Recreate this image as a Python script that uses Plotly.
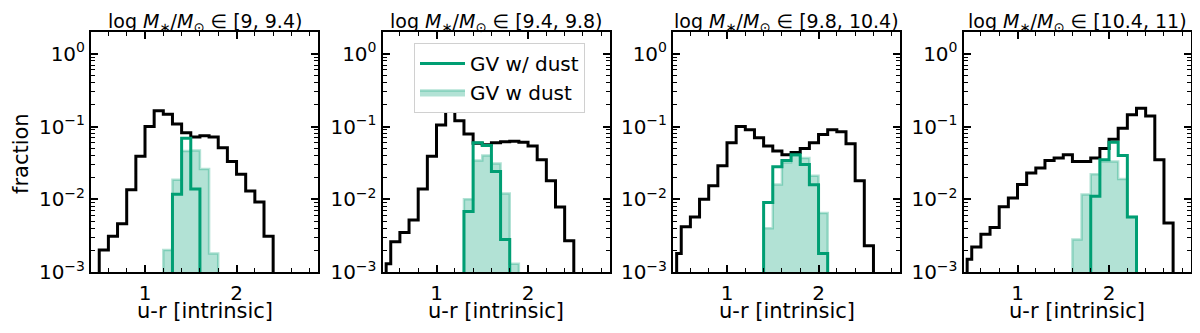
import numpy as np
import plotly.graph_objects as go

# u-r distributions (fraction per 0.1-wide bin), one entry per stellar-mass bin.
# *_lo is the left edge of the first bin of each list.
bin_width = 0.1
u_r_min = 0.45  # black histograms start at the sample's lowest u-r

mass_bins = ["[9, 9.4)", "[9.4, 9.8)", "[9.8, 10.4)", "[10.4, 11)"]

all_lo = [0.5, 0.4, 0.4, 0.4]
all_p1 = [0.0020, 0.0031, 0.0046, 0.0135, 0.039, 0.100, 0.165, 0.148, 0.108, 0.082,
          0.072, 0.075, 0.072, 0.051, 0.033, 0.022, 0.0130, 0.0092, 0.0031]
all_p2 = [0.0013, 0.0026, 0.0035, 0.0052, 0.0138, 0.039, 0.105, 0.170, 0.120, 0.079,
          0.059, 0.056, 0.060, 0.062, 0.063, 0.061, 0.054, 0.035, 0.018, 0.0078, 0.0027]
all_p3 = [0.0018, 0.0042, 0.0057, 0.0100, 0.0154, 0.029, 0.060, 0.100, 0.090, 0.070,
          0.054, 0.046, 0.041, 0.044, 0.050, 0.060, 0.078, 0.090, 0.085, 0.058, 0.018, 0.0023]
all_p4 = [0.0015, 0.0022, 0.0033, 0.0041, 0.0079, 0.0104, 0.0160, 0.023, 0.027, 0.034,
          0.037, 0.041, 0.033, 0.033, 0.037, 0.050, 0.067, 0.095, 0.145, 0.178, 0.140, 0.035, 0.0047]

gv_lo = [1.3, 1.3, 1.4, 1.8]
gv_p1 = [0.0117, 0.069, 0.0138]
gv_p2 = [0.0068, 0.060, 0.055, 0.024, 0.0028]
gv_p3 = [0.0090, 0.028, 0.034, 0.041, 0.030, 0.0158, 0.0018]
gv_p4 = [0.011, 0.035, 0.061, 0.040, 0.0057]

gvd_lo = [1.2, 1.3, 1.4, 1.6]
gvd_p1 = [0.0020, 0.0185, 0.046, 0.047, 0.026, 0.0018]
gvd_p2 = [0.010, 0.034, 0.040, 0.031, 0.012, 0.0013]
gvd_p3 = [0.0040, 0.016, 0.032, 0.040, 0.037, 0.021, 0.0065]
gvd_p4 = [0.0028, 0.0116, 0.022, 0.033, 0.033, 0.019, 0.0057]

all_frac = [all_p1, all_p2, all_p3, all_p4]
gv_frac = [gv_p1, gv_p2, gv_p3, gv_p4]
gvd_frac = [gvd_p1, gvd_p2, gvd_p3, gvd_p4]

GREEN = "rgb(0,158,115)"
GREEN_A = "rgba(0,158,115,0.3)"
FONT = "DejaVu Sans"

# the page keeps the browser's 8px body margin round the plot div, so the
# figure is shrunk to leave the page exactly 1200x333; positions below are
# page pixels
PAD = 8
W, H = 1200 - 2 * PAD, 333 - 2 * PAD
panel_left = [91, 382.5, 673, 963.5]
panel_w = 227
top_px, bot_px = 32, 272


def px_x(v):
    return (v - PAD) / W


def px_y(v):
    return 1 - (v - PAD) / H


def steps(lo, vals, floor=1e-5):
    # matplotlib-style 'step' outline: up from the floor, across the bins, back down
    edges = lo + bin_width * np.arange(len(vals) + 1)
    edges[0] = max(edges[0], u_r_min)
    x = np.repeat(edges, 2)
    y = np.concatenate([[floor], np.repeat(vals, 2), [floor]])
    return x, y


fig = go.Figure()

for i in range(4):
    xa = "x" if i == 0 else f"x{i + 1}"
    ya = "y" if i == 0 else f"y{i + 1}"

    x, y = steps(all_lo[i], all_frac[i])
    fig.add_trace(go.Scatter(x=x, y=y, mode="lines", xaxis=xa, yaxis=ya,
                             line=dict(color="black", width=3), showlegend=False))

    x, y = steps(gvd_lo[i], gvd_frac[i])
    fig.add_trace(go.Scatter(x=x, y=y, mode="lines", xaxis=xa, yaxis=ya, fill="toself",
                             fillcolor=GREEN_A, line=dict(color=GREEN_A, width=2.5),
                             name="GV w dust", showlegend=(i == 1), legendrank=2))

    x, y = steps(gv_lo[i], gv_frac[i])
    fig.add_trace(go.Scatter(x=x, y=y, mode="lines", xaxis=xa, yaxis=ya,
                             line=dict(color=GREEN, width=3),
                             name="GV w/ dust", showlegend=(i == 1), legendrank=1))

ymajor = [1e-3, 1e-2, 1e-1, 1]
ylabels = ["10<sup>−3</sup>", "10<sup>−2</sup>", "10<sup>−1</sup>", "10<sup>0</sup>"]
yminor = [k * 10.0 ** e for e in range(-3, 1) for k in range(2, 10) if k * 10.0 ** e <= 2]
xminor = [round(0.2 * k, 1) for k in range(2, 15)]

layout = dict(
    template="none",
    width=W, height=H, autosize=False,
    margin=dict(l=0, r=0, t=0, b=0, pad=0, autoexpand=False),
    paper_bgcolor="white", plot_bgcolor="white",
    font=dict(family=FONT, size=20, color="black"),
    legend=dict(x=px_x(414), y=px_y(43), xanchor="left", yanchor="top",
                bgcolor="white", bordercolor="#d0d0d0", borderwidth=1,
                font=dict(size=20), itemwidth=45, traceorder="normal"),
)

annotations = []
for i in range(4):
    sx = "" if i == 0 else str(i + 1)
    layout["xaxis" + sx] = dict(
        domain=[px_x(panel_left[i]), px_x(panel_left[i] + panel_w)],
        anchor="y" + sx, range=[0.41, 2.89], automargin=False,
        showline=True, linewidth=2, linecolor="black", mirror="allticks",
        ticks="inside", ticklen=7, tickwidth=1.5, tickcolor="black",
        tickvals=[1, 2], ticktext=["1", "2"], showgrid=False, zeroline=False,
        tickfont=dict(size=20), ticklabelstandoff=2,
        minor=dict(tickvals=xminor, ticks="inside", ticklen=4, tickwidth=1,
                   tickcolor="black", showgrid=False),
    )
    layout["yaxis" + sx] = dict(
        domain=[px_y(bot_px), px_y(top_px)], anchor="x" + sx, automargin=False,
        type="log", range=[-3, 0.3],
        showline=True, linewidth=2, linecolor="black", mirror="allticks",
        ticks="inside", ticklen=7, tickwidth=1.5, tickcolor="black",
        tickvals=ymajor, ticktext=ylabels, showgrid=False, zeroline=False,
        tickfont=dict(size=20),
        minor=dict(tickvals=yminor, ticks="inside", ticklen=4, tickwidth=1,
                   tickcolor="black", showgrid=False),
    )
    cx = px_x(panel_left[i] + panel_w / 2)
    annotations.append(dict(
        x=cx, y=1, xref="paper", yref="paper", showarrow=False,
        xanchor="center", yanchor="top", font=dict(size=19),
        text="log <i>M</i><sub>∗</sub>/<i>M</i><sub>⊙</sub> ∈ " + mass_bins[i],
    ))
    annotations.append(dict(
        x=cx, y=px_y(311), xref="paper", yref="paper", showarrow=False,
        xanchor="center", yanchor="middle", font=dict(size=21),
        text="u-r [intrinsic]",
    ))

annotations.append(dict(
    x=px_x(21), y=px_y(154), xref="paper", yref="paper", showarrow=False,
    xanchor="center", yanchor="middle", textangle=-90, font=dict(size=21),
    text="fraction",
))
layout["annotations"] = annotations

fig.update_layout(**layout)
fig.write_html("out.html")
